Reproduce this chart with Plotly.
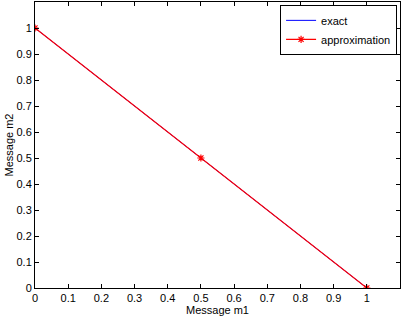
import plotly.graph_objects as go

m1_exact = [0, 1]
m2_exact = [1, 0]
m1_approx = [0, 0.5, 1]
m2_approx = [1, 0.5, 0]
ticks = [0, 0.1, 0.2, 0.3, 0.4, 0.5, 0.6, 0.7, 0.8, 0.9, 1]
tick_text = ["0", "0.1", "0.2", "0.3", "0.4", "0.5", "0.6", "0.7", "0.8", "0.9", "1"]

fig = go.Figure()
fig.add_trace(go.Scatter(x=m1_exact, y=m2_exact, mode="lines", name="exact",
                         line=dict(color="#0000ff", width=1)))
fig.add_trace(go.Scatter(x=m1_approx, y=m2_approx, mode="lines+markers", name="approximation",
                         line=dict(color="#ff0000", width=1.1),
                         marker=dict(symbol="asterisk-open", size=6,
                                     line=dict(color="#ff0000", width=1.2))))

axis_common = dict(range=[0, 1.1], tickvals=ticks, ticktext=tick_text,
                   ticks="inside", ticklen=4, tickcolor="black", tickwidth=1,
                   showline=True, linecolor="black", linewidth=1, mirror="ticks",
                   showgrid=False, zeroline=False, automargin=False,
                   tickfont=dict(family="Liberation Sans, Arial", size=11, color="black"))

fig.update_layout(
    width=401, height=318,
    margin=dict(l=35, r=1, t=2, b=30),
    plot_bgcolor="white", paper_bgcolor="white",
    font=dict(family="Liberation Sans, Arial", size=11, color="black"),
    xaxis=dict(**axis_common, title=dict(text="Message m1", standoff=0,
                                          font=dict(size=11))),
    yaxis=dict(**axis_common, title=dict(text="Message m2", standoff=0,
                                          font=dict(size=11))),
    legend=dict(x=0.992, y=0.99, xanchor="right", yanchor="top",
                bordercolor="black", borderwidth=1, bgcolor="white",
                font=dict(size=11), tracegroupgap=0, itemwidth=30),
    showlegend=True,
)

fig.write_html("out.html", config={"displayModeBar": False},
               post_script="document.body.style.margin='0';")
